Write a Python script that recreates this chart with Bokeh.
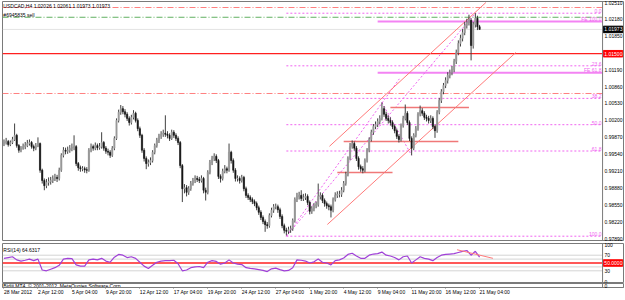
from bokeh.plotting import figure
from bokeh.layouts import column
from bokeh.models import Range1d, FixedTicker, NumeralTickFormatter, Span, ColumnDataSource
from bokeh.embed import file_html
from bokeh.resources import INLINE
from bokeh.core.properties import value

# ---------------- data (USDCAD, H4) ----------------
first_open = 0.9975
close = [
    0.9977, 0.9979, 0.9973, 0.9977, 0.9983, 0.9991, 0.9971, 0.9962, 0.9966, 0.9969,
    0.9971, 0.9975, 0.9977, 0.9969, 0.9966, 0.9971, 0.9975, 0.9923, 0.9903, 0.9893,
    0.9899, 0.9901, 0.9903, 0.9907, 0.9909, 0.9907, 0.9923, 0.9952, 0.9962, 0.9960,
    0.9962, 0.9966, 0.9967, 0.9969, 0.9936, 0.9928, 0.9926, 0.9926, 0.9924, 0.9923,
    0.9962, 0.9969, 0.9966, 0.9971, 0.9967, 0.9969, 0.9977, 0.9966, 0.9960, 0.9958,
    0.9952, 0.9966, 0.9985, 1.0020, 1.0036, 1.0043, 1.0037, 1.0032, 1.0024, 1.0016,
    1.0026, 1.0034, 1.0020, 1.0004, 0.9991, 0.9962, 0.9946, 0.9936, 0.9938, 0.9942,
    0.9958, 0.9971, 0.9981, 0.9989, 0.9993, 0.9995, 0.9993, 0.9991, 0.9985, 0.9997,
    0.9991, 0.9985, 0.9977, 0.9932, 0.9887, 0.9889, 0.9880, 0.9887, 0.9897, 0.9903,
    0.9907, 0.9905, 0.9903, 0.9907, 0.9884, 0.9880, 0.9919, 0.9938, 0.9946, 0.9950,
    0.9942, 0.9911, 0.9907, 0.9921, 0.9926, 0.9923, 0.9958, 0.9942, 0.9923, 0.9907,
    0.9907, 0.9903, 0.9909, 0.9887, 0.9874, 0.9870, 0.9866, 0.9862, 0.9858, 0.9850,
    0.9841, 0.9831, 0.9823, 0.9817, 0.9815, 0.9835, 0.9845, 0.9852, 0.9852, 0.9846,
    0.9833, 0.9815, 0.9806, 0.9804, 0.9807, 0.9809, 0.9825, 0.9866, 0.9872, 0.9874,
    0.9868, 0.9870, 0.9872, 0.9860, 0.9843, 0.9848, 0.9854, 0.9856, 0.9872, 0.9874,
    0.9864, 0.9858, 0.9854, 0.9852, 0.9845, 0.9866, 0.9874, 0.9876, 0.9876, 0.9884,
    0.9897, 0.9915, 0.9946, 0.9969, 0.9975, 0.9966, 0.9946, 0.9930, 0.9926, 0.9923,
    0.9942, 0.9962, 0.9983, 0.9997, 1.0008, 1.0012, 1.0018, 1.0024, 1.0043, 1.0032,
    1.0024, 1.0020, 1.0016, 1.0008, 1.0000, 0.9989, 0.9983, 1.0010, 1.0024, 1.0034,
    1.0016, 0.9985, 0.9966, 0.9991, 1.0004, 1.0032, 1.0039, 1.0034, 1.0026, 1.0024,
    1.0020, 1.0024, 1.0008, 1.0000, 1.0036, 1.0059, 1.0076, 1.0088, 1.0098, 1.0108,
    1.0113, 1.0119, 1.0135, 1.0152, 1.0170, 1.0180, 1.0191, 1.0205, 1.0211, 1.0215,
    1.0166, 1.0207, 1.0219, 1.02026, 1.01973,
]
high = [
    0.9983, 0.9986, 0.9982, 0.9981, 0.9988, 1.0014, 0.9994, 0.9974, 0.9970, 0.9975,
    0.9978, 0.9982, 0.9983, 0.9980, 0.9973, 0.9976, 0.9987, 0.9977, 0.9926, 0.9907,
    0.9906, 0.9909, 0.9910, 0.9913, 0.9916, 0.9914, 0.9928, 0.9956, 0.9968, 0.9967,
    0.9969, 0.9972, 0.9975, 0.9991, 0.9972, 0.9939, 0.9932, 0.9931, 0.9930, 0.9929,
    0.9966, 0.9975, 0.9973, 0.9977, 0.9975, 0.9976, 0.9997, 0.9980, 0.9970, 0.9965,
    0.9962, 0.9970, 0.9989, 1.0024, 1.0041, 1.0050, 1.0048, 1.0042, 1.0036, 1.0028,
    1.0031, 1.0040, 1.0037, 1.0024, 1.0008, 0.9994, 0.9966, 0.9950, 0.9944, 0.9948,
    0.9962, 0.9975, 0.9986, 0.9994, 0.9999, 1.0002, 1.0030, 0.9999, 0.9995, 1.0002,
    1.0001, 0.9995, 0.9989, 0.9980, 0.9935, 0.9896, 0.9894, 0.9892, 0.9902, 0.9908,
    0.9913, 0.9912, 0.9910, 0.9913, 0.9910, 0.9889, 0.9923, 0.9943, 0.9951, 0.9956,
    0.9954, 0.9945, 0.9915, 0.9926, 0.9933, 0.9930, 0.9975, 0.9961, 0.9946, 0.9927,
    0.9913, 0.9911, 0.9914, 0.9912, 0.9891, 0.9878, 0.9874, 0.9870, 0.9866, 0.9862,
    0.9854, 0.9845, 0.9835, 0.9827, 0.9822, 0.9839, 0.9850, 0.9857, 0.9858, 0.9856,
    0.9850, 0.9837, 0.9819, 0.9811, 0.9813, 0.9815, 0.9829, 0.9870, 0.9879, 0.9881,
    0.9884, 0.9877, 0.9878, 0.9876, 0.9864, 0.9853, 0.9859, 0.9862, 0.9897, 0.9880,
    0.9878, 0.9868, 0.9862, 0.9858, 0.9856, 0.9870, 0.9880, 0.9882, 0.9883, 0.9890,
    0.9902, 0.9920, 0.9950, 0.9976, 0.9981, 0.9979, 0.9970, 0.9950, 0.9934, 0.9931,
    0.9946, 0.9966, 0.9987, 1.0002, 1.0013, 1.0018, 1.0024, 1.0030, 1.0055, 1.0048,
    1.0037, 1.0030, 1.0026, 1.0020, 1.0012, 1.0004, 0.9993, 1.0014, 1.0029, 1.0051,
    1.0038, 1.0020, 0.9989, 0.9995, 1.0009, 1.0036, 1.0049, 1.0044, 1.0038, 1.0031,
    1.0029, 1.0030, 1.0028, 1.0012, 1.0040, 1.0064, 1.0081, 1.0093, 1.0104, 1.0114,
    1.0119, 1.0126, 1.0140, 1.0158, 1.0176, 1.0187, 1.0198, 1.0212, 1.0218, 1.0226,
    1.0219, 1.0212, 1.0229, 1.0224, 1.02061,
]
low = [
    0.9970, 0.9973, 0.9969, 0.9970, 0.9974, 0.9980, 0.9967, 0.9957, 0.9958, 0.9963,
    0.9964, 0.9968, 0.9971, 0.9965, 0.9960, 0.9962, 0.9968, 0.9918, 0.9897, 0.9884,
    0.9888, 0.9893, 0.9895, 0.9898, 0.9902, 0.9900, 0.9903, 0.9920, 0.9948, 0.9954,
    0.9955, 0.9957, 0.9960, 0.9962, 0.9931, 0.9922, 0.9920, 0.9921, 0.9918, 0.9917,
    0.9920, 0.9958, 0.9961, 0.9962, 0.9962, 0.9963, 0.9965, 0.9961, 0.9955, 0.9952,
    0.9947, 0.9949, 0.9962, 0.9982, 1.0016, 1.0031, 1.0032, 1.0026, 1.0019, 1.0010,
    1.0012, 1.0022, 1.0016, 0.9999, 0.9986, 0.9957, 0.9940, 0.9925, 0.9930, 0.9933,
    0.9938, 0.9954, 0.9967, 0.9976, 0.9984, 0.9988, 0.9988, 0.9985, 0.9980, 0.9982,
    0.9986, 0.9980, 0.9972, 0.9927, 0.9861, 0.9878, 0.9872, 0.9875, 0.9883, 0.9893,
    0.9898, 0.9900, 0.9898, 0.9899, 0.9878, 0.9864, 0.9876, 0.9915, 0.9933, 0.9941,
    0.9937, 0.9906, 0.9899, 0.9903, 0.9917, 0.9917, 0.9920, 0.9936, 0.9918, 0.9901,
    0.9901, 0.9897, 0.9899, 0.9882, 0.9869, 0.9865, 0.9861, 0.9857, 0.9853, 0.9845,
    0.9836, 0.9826, 0.9818, 0.9803, 0.9809, 0.9811, 0.9831, 0.9840, 0.9847, 0.9840,
    0.9828, 0.9810, 0.9800, 0.9796, 0.9799, 0.9801, 0.9805, 0.9821, 0.9861, 0.9866,
    0.9863, 0.9863, 0.9865, 0.9855, 0.9837, 0.9838, 0.9843, 0.9849, 0.9852, 0.9866,
    0.9859, 0.9852, 0.9848, 0.9845, 0.9831, 0.9841, 0.9862, 0.9869, 0.9870, 0.9871,
    0.9880, 0.9893, 0.9911, 0.9942, 0.9965, 0.9961, 0.9941, 0.9924, 0.9920, 0.9917,
    0.9919, 0.9938, 0.9958, 0.9979, 0.9992, 1.0003, 1.0007, 1.0013, 1.0020, 1.0027,
    1.0019, 1.0014, 1.0010, 1.0003, 0.9995, 0.9984, 0.9977, 0.9979, 1.0006, 1.0020,
    1.0011, 0.9980, 0.9952, 0.9962, 0.9987, 1.0000, 1.0028, 1.0029, 1.0021, 1.0018,
    1.0014, 1.0015, 1.0003, 0.9986, 0.9996, 1.0032, 1.0054, 1.0071, 1.0083, 1.0092,
    1.0102, 1.0108, 1.0114, 1.0130, 1.0147, 1.0164, 1.0174, 1.0186, 1.0199, 1.0205,
    1.0137, 1.0160, 1.0201, 1.0196, 1.01973,
]
# RSI(14), one reading every second bar
rsi_step = 2
rsi = [
    62, 64, 66, 58, 55, 57, 60, 56, 60, 32, 30, 34, 38, 44, 60, 62, 61, 45, 42, 42,
    58, 60, 58, 62, 55, 52, 65, 72, 70, 64, 66, 62, 52, 42, 36, 44, 52, 55, 56, 56,
    57, 48, 30, 32, 38, 40, 41, 38, 52, 56, 54, 47, 50, 58, 50, 47, 46, 38, 36, 35,
    33, 31, 28, 35, 37, 33, 30, 31, 38, 58, 57, 55, 50, 53, 60, 52, 50, 45, 56, 58,
    63, 72, 75, 68, 62, 62, 70, 73, 74, 78, 70, 68, 64, 58, 66, 68, 50, 58, 66, 62,
    60, 56, 64, 70, 72, 73, 74, 77, 80, 82, 70, 80, 65,
]
time_labels = ["28 Mar 2012", "2 Apr 12:00", "5 Apr 04:00", "9 Apr 20:00", "12 Apr 12:00",
               "17 Apr 04:00", "19 Apr 20:00", "24 Apr 12:00", "27 Apr 04:00", "1 May 20:00",
               "4 May 12:00", "9 May 04:00", "11 May 20:00", "16 May 12:00", "21 May 04:00"]
bars_per_label = 16
price_ticks = [1.02510, 1.02180, 1.01850, 1.01190, 1.00860, 1.00530, 1.00200,
               0.99870, 0.99540, 0.99210, 0.98880, 0.98550, 0.98220, 0.97890]
rsi_ticks = [100, 70, 30, 0]

# Drawn objects
fib_anchor_bar, fib_high_bar, fib_low, fib_high = 133, 222, 0.97945, 1.02289
fib_levels = [0.0, 23.6, 38.2, 50.0, 61.8, 100.0]
fe_a, fe_b, fe_c = 0.97945, 1.0055, 0.9952
fe_bars = [133, 178, 192]
fe_start_bar = 176
fe_levels = [61.8, 100.0]
channel_upper = [(153.3, 0.99696), (227.0, 1.02498)]
channel_lower = [(152.3, 0.98173), (241.1, 1.01524)]
sr_segments = [(157, 183, 0.99186), (160, 214, 0.99790), (182, 219, 1.00452)]
stop_line, order_line, tp_line, level_line = 1.0240, 1.0221, 1.00725, 1.01500
rsi_trend = [(213.4, 84), (230.3, 62)]
rsi_levels = [70, 60, 40, 30]
rsi_level_line = 50

# ---------------- geometry / style ----------------
FONT = "Liberation Sans"
FS = "5px"
PINK = "#F064F0"
SALMON = "#FF7A7A"
PX = 2.13                     # pixels per H4 bar
X0 = -0.7                     # left frame edge (pixel 2)
XE = X0 + 623 / PX            # right frame edge (pixel 625)
XB = X0 + 602 / PX            # chart / price-scale separator (pixel 604)

xr = Range1d(X0, XE)

def style_axis(ax):
    ax.major_label_text_font = FONT
    ax.major_label_text_font_size = FS
    ax.major_label_text_color = "#000000"
    ax.axis_line_color = None
    ax.major_tick_line_color = None
    ax.major_tick_out = 0
    ax.major_tick_in = 0
    ax.minor_tick_out = 0
    ax.minor_tick_in = 0
    ax.major_label_standoff = -19   # price labels sit in the scale strip, as in MetaTrader

def base(h, yr, bt, bb, xaxis=None):
    f = figure(width=625, height=h, x_range=xr, y_range=yr, x_axis_location=xaxis,
               y_axis_location="right", output_backend="svg", toolbar_location=None,
               min_border_left=2, min_border_right=0, min_border_top=bt, min_border_bottom=bb)
    f.grid.visible = False
    f.outline_line_color = "#7a7a7a"
    f.background_fill_color = "#ffffff"
    f.border_fill_color = "#ffffff"
    f.add_layout(Span(location=XB, dimension="height", line_color="#7a7a7a", line_width=1))
    return f

def hline(fig, y, color, dash="solid", width=1):
    fig.segment(x0=[X0], y0=[y], x1=[XB], y1=[y], line_color=color, line_dash=dash, line_width=width)

def tag(fig, y, text, bg, px_h):
    fig.rect(x=[XB + 10.5 / PX], y=[y], width=19.5 / PX, height=px_h, fill_color=bg, line_color=bg)
    fig.text(x=[XB + 1.8 / PX], y=[y], text=[text], text_align="left", text_baseline="middle",
             text_font=value(FONT), text_font_size=FS, text_color="#ffffff")

# ---------------- main price pane ----------------
YLO, YHI = 0.97861, 1.02517
p = base(242, Range1d(YLO, YHI), 1, 2)
ppx = (YHI - YLO) / 239
yax = p.yaxis[0]
yax.ticker = FixedTicker(ticks=price_ticks)
yax.formatter = NumeralTickFormatter(format="0.00000")
style_axis(yax)

hline(p, stop_line, "#FF8080", "6 2 1 2")
hline(p, order_line, "#60B060", "6 2 1 2")
hline(p, close[-1], "#C8C8C8", "1 1")
hline(p, level_line, "#FF2020", "solid", 1.3)
hline(p, tp_line, "#FF8080", "6 2 1 2")

# fibonacci retracement
fib_prices = [fib_high - (fib_high - fib_low) * lv / 100 for lv in fib_levels]
p.segment(x0=[fib_anchor_bar] * len(fib_prices), y0=fib_prices, x1=[XB] * len(fib_prices), y1=fib_prices,
          line_color=PINK, line_dash="2 2", line_width=1)
p.text(x=[XB - 0.5] * len(fib_prices), y=fib_prices, text=[f"{lv:.1f}" for lv in fib_levels],
       text_align="right", text_baseline="bottom", text_font=value(FONT), text_font_size=FS, text_color=PINK)
p.line(x=[fib_anchor_bar, fib_high_bar], y=[fib_low, fib_high], line_color=PINK, line_dash="2 2", line_width=1)

# fibonacci expansion
fe_prices = [fe_c + (fe_b - fe_a) * lv / 100 for lv in fe_levels]
p.segment(x0=[fe_start_bar] * 2, y0=fe_prices, x1=[XB] * 2, y1=fe_prices, line_color=PINK, line_width=2, alpha=0.8)
p.text(x=[XB - 0.5] * 2, y=fe_prices, text=[f"FE {lv:.1f}" for lv in fe_levels],
       text_align="right", text_baseline="bottom", text_font=value(FONT), text_font_size=FS, text_color=PINK)
p.line(x=[fe_bars[0], 186.2], y=[fe_a, 1.0101], line_color=PINK, line_dash="2 2", line_width=1)
p.line(x=fe_bars[1:], y=[fe_b, fe_c], line_color=PINK, line_dash="2 2", line_width=1)

# channel and support / resistance
for ch in (channel_upper, channel_lower):
    p.line(x=[ch[0][0], ch[1][0]], y=[ch[0][1], ch[1][1]], line_color=SALMON, line_width=1)
p.segment(x0=[s[0] for s in sr_segments], y0=[s[2] for s in sr_segments],
          x1=[s[1] for s in sr_segments], y1=[s[2] for s in sr_segments], line_color="#F07878", line_width=1.5)

# candles
n = len(close)
opens = [first_open] + close[:-1]
src = ColumnDataSource(dict(
    x=list(range(n)), h=high, l=low,
    top=[max(o, c) for o, c in zip(opens, close)],
    bot=[min(o, c) for o, c in zip(opens, close)],
    col=["#9a9a9a" if c >= o else "#151515" for o, c in zip(opens, close)]))
p.segment(x0="x", y0="l", x1="x", y1="h", source=src, line_color="#404040", line_width=1)
p.vbar(x="x", width=0.6, top="top", bottom="bot", fill_color="col", line_color="col", line_width=0.6, source=src)

p.text(x=[X0 + 0.4, X0 + 0.4], y=[1.02430, 1.02262],
       text=["USDCAD,H4  1.02026 1.02061 1.01973 1.01973", "#6945835 sell"],
       text_align="left", text_baseline="middle", text_font=value(FONT), text_font_size=FS, text_color="#000000")

tag(p, close[-1], f"{close[-1]:.5f}", "#000000", 6.5 * ppx)
tag(p, level_line, f"{level_line:.5f}", "#FF0000", 6.5 * ppx)

# ---------------- RSI pane ----------------
r = base(41, Range1d(0, 100), 1, 1)
rpx = 100 / 39
ray = r.yaxis[0]
ray.ticker = FixedTicker(ticks=rsi_ticks)
style_axis(ray)
for lv in rsi_levels:
    hline(r, lv, "#A8A8A8", "1 1")
hline(r, rsi_level_line, "#FF2020", "solid", 1.3)
r.line(x=[i * rsi_step for i in range(len(rsi))], y=rsi, line_color="#A040D8", line_width=1.2)
r.line(x=[t[0] for t in rsi_trend], y=[t[1] for t in rsi_trend], line_color=SALMON, line_width=1)
r.text(x=[X0 + 0.4], y=[84], text=["RSI(14) 64.6317"], text_align="left", text_baseline="middle",
       text_font=value(FONT), text_font_size=FS, text_color="#000000")
tag(r, rsi_level_line, "50.0000", "#FF0000", 6.5 * rpx)

# ---------------- bottom pane with time axis ----------------
b = base(17, Range1d(0, 1), 0, 10, xaxis="below")
bya = b.yaxis[0]
bya.ticker = FixedTicker(ticks=[0.5])
bya.major_label_overrides = {0.5: "0"}
style_axis(bya)
bxa = b.xaxis[0]
tick_bars = [k * bars_per_label for k in range(len(time_labels))]
bxa.ticker = FixedTicker(ticks=tick_bars)
bxa.major_label_overrides = {t: lab for t, lab in zip(tick_bars, time_labels)}
bxa.major_label_text_font = FONT
bxa.major_label_text_font_size = FS
bxa.major_label_text_color = "#000000"
bxa.axis_line_color = "#7a7a7a"
bxa.major_tick_line_color = "#7a7a7a"
bxa.major_tick_out = 1
bxa.major_tick_in = 0
bxa.minor_tick_out = 0
bxa.minor_tick_in = 0
bxa.major_label_orientation = -0.0001
bxa.major_label_standoff = 3
b.text(x=[X0 + 0.4], y=[0.5], text=["Bidiji MT4, \u00a9 2001-2012, MetaQuotes Software Corp."],
       text_align="left", text_baseline="middle", text_font=value(FONT), text_font_size=FS, text_color="#000000")

layout = column(p, r, b, spacing=0)
open("out.html", "w").write(file_html(layout, INLINE))
